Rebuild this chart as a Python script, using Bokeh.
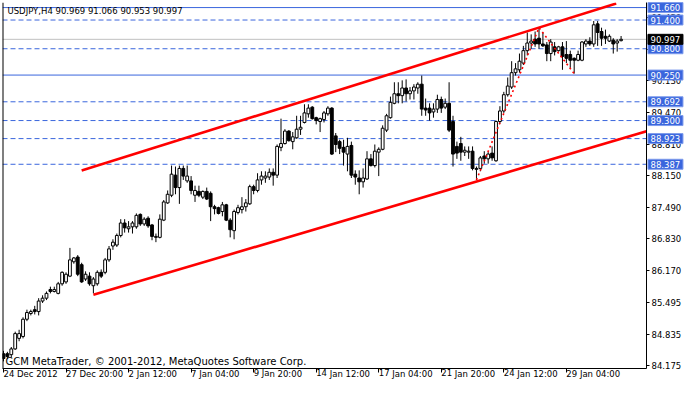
from bokeh.plotting import figure
from bokeh.models import Range1d, FixedTicker, Label, Span, ColumnDataSource, NumeralTickFormatter
from bokeh.core.properties import value
from bokeh.embed import file_html
from bokeh.resources import INLINE

symbol = "USDJPY,H4"

open_ = [
    84.43, 84.43, 84.41, 84.53, 84.75, 84.79, 85.15, 85.27, 85.35, 85.31,
    85.53, 85.59, 85.77, 85.73, 85.69, 85.89, 85.93, 86.05, 86.35, 86.45,
    86.29, 85.99, 86.05, 85.85, 85.89, 86.13, 86.13, 86.39, 86.68, 86.70,
    86.90, 87.16, 87.04, 87.08, 87.08, 87.34, 87.14, 87.26, 87.12, 86.86,
    86.86, 87.22, 87.58, 87.74, 88.16, 87.90, 88.30, 88.04, 88.04, 87.74,
    87.82, 87.70, 87.82, 87.78, 87.50, 87.48, 87.40, 87.54, 87.22, 87.00,
    87.38, 87.44, 87.50, 87.56, 87.92, 87.84, 88.06, 88.10, 88.12, 88.22,
    88.16, 88.74, 88.82, 89.08, 88.86, 88.94, 89.12, 89.26, 89.44, 89.58,
    89.36, 89.28, 89.32, 89.44, 89.56, 88.98, 88.86, 88.74, 88.60, 88.78,
    88.18, 88.10, 88.02, 88.08, 88.50, 88.36, 88.64, 88.70, 89.10, 89.36,
    89.66, 89.86, 89.82, 89.98, 89.86, 89.92, 89.98, 90.06, 89.56, 89.56,
    89.48, 89.54, 89.74, 89.58, 89.66, 89.28, 88.76, 88.82, 88.64, 88.64,
    88.66, 88.28, 88.30, 88.56, 88.50, 88.62, 88.46, 89.28, 89.50, 89.84,
    90.00, 90.30, 90.36, 90.50, 90.76, 90.92, 91.00, 91.02, 90.90, 90.88,
    90.70, 90.84, 90.76, 90.84, 90.68, 90.68, 90.60, 90.56, 90.56, 90.90,
    90.96, 90.90, 91.32, 91.16, 91.06, 90.96, 90.98, 90.92, 90.969]

high = [
    84.49, 84.47, 84.57, 84.89, 84.93, 85.19, 85.35, 85.35, 85.43, 85.59,
    85.65, 85.73, 85.83, 85.83, 85.93, 86.15, 86.13, 86.64, 86.45, 86.49,
    86.33, 86.15, 86.13, 86.03, 86.17, 86.19, 86.43, 86.68, 86.82, 86.94,
    87.24, 87.24, 87.20, 87.20, 87.36, 87.36, 87.28, 87.30, 87.14, 86.94,
    87.34, 87.64, 87.84, 88.36, 88.34, 88.36, 88.36, 88.36, 88.14, 87.94,
    87.94, 87.84, 87.90, 87.82, 87.54, 87.50, 87.60, 87.56, 87.26, 87.44,
    87.54, 87.70, 87.66, 87.96, 87.96, 88.20, 88.24, 88.24, 88.30, 88.30,
    88.80, 89.34, 89.12, 89.10, 89.06, 89.40, 89.40, 89.64, 89.64, 89.60,
    89.38, 89.36, 89.50, 89.60, 89.58, 89.04, 88.90, 88.90, 88.94, 88.86,
    88.26, 88.26, 88.30, 88.66, 88.60, 88.80, 88.74, 89.20, 89.44, 89.80,
    90.10, 90.10, 90.14, 90.16, 90.00, 90.06, 90.10, 90.24, 89.76, 89.66,
    89.66, 89.84, 89.80, 89.76, 90.10, 89.40, 88.86, 88.96, 88.76, 88.76,
    88.76, 88.34, 88.56, 88.66, 88.64, 88.76, 89.30, 89.60, 89.90, 90.20,
    90.54, 90.50, 90.70, 90.86, 91.14, 91.10, 91.16, 91.24, 91.14, 90.94,
    91.00, 90.94, 90.86, 90.94, 90.96, 90.76, 90.62, 90.76, 90.96, 91.00,
    91.04, 91.38, 91.38, 91.24, 91.20, 91.10, 91.02, 91.00, 91.066]

low = [
    84.27, 84.33, 84.35, 84.51, 84.69, 84.75, 85.11, 85.23, 85.25, 85.23,
    85.49, 85.55, 85.69, 85.71, 85.67, 85.85, 85.89, 86.03, 86.31, 86.05,
    85.91, 85.95, 85.85, 85.69, 85.85, 86.01, 86.09, 86.35, 86.60, 86.66,
    86.86, 86.96, 86.96, 86.94, 87.04, 87.10, 87.10, 87.06, 86.80, 86.76,
    86.84, 87.20, 87.56, 87.70, 87.76, 87.56, 88.06, 88.00, 87.76, 87.60,
    87.70, 87.66, 87.64, 87.20, 87.34, 87.34, 87.30, 87.20, 86.86, 86.82,
    87.34, 87.36, 87.40, 87.54, 87.76, 87.80, 87.96, 88.00, 88.06, 87.94,
    88.10, 88.66, 88.80, 88.86, 88.70, 88.92, 89.00, 89.24, 89.36, 89.32,
    89.22, 89.06, 89.26, 89.40, 88.58, 88.64, 88.60, 88.36, 88.24, 88.10,
    87.96, 87.76, 87.90, 88.06, 88.34, 88.32, 88.14, 88.68, 89.06, 89.34,
    89.64, 89.66, 89.66, 89.70, 89.74, 89.74, 89.86, 89.40, 89.40, 89.30,
    89.36, 89.46, 89.46, 89.54, 89.06, 88.34, 88.50, 88.46, 88.56, 88.50,
    88.26, 88.06, 88.24, 88.40, 88.40, 88.46, 88.44, 89.24, 89.46, 89.80,
    89.96, 90.24, 90.30, 90.46, 90.66, 90.80, 90.84, 90.80, 90.84, 90.54,
    90.54, 90.66, 90.74, 90.36, 90.50, 90.40, 90.28, 90.54, 90.54, 90.84,
    90.86, 90.84, 90.86, 90.86, 90.90, 90.94, 90.70, 90.74, 90.953]

close = [
    84.33, 84.37, 84.53, 84.85, 84.85, 85.15, 85.29, 85.31, 85.31, 85.53,
    85.59, 85.69, 85.73, 85.77, 85.89, 86.13, 86.09, 86.39, 86.43, 86.09,
    85.93, 86.09, 85.89, 85.99, 86.13, 86.05, 86.39, 86.62, 86.76, 86.90,
    87.16, 87.06, 87.08, 87.16, 87.32, 87.14, 87.24, 87.10, 86.88, 86.88,
    87.24, 87.60, 87.76, 88.18, 87.90, 88.30, 88.14, 88.14, 87.84, 87.84,
    87.74, 87.82, 87.66, 87.50, 87.46, 87.36, 87.54, 87.22, 87.02, 87.40,
    87.48, 87.50, 87.58, 87.92, 87.84, 88.06, 88.14, 88.14, 88.22, 88.16,
    88.76, 88.82, 89.08, 88.88, 88.96, 89.12, 89.16, 89.46, 89.56, 89.34,
    89.30, 89.34, 89.46, 89.56, 88.60, 88.80, 88.72, 88.64, 88.76, 88.16,
    88.12, 88.02, 88.10, 88.50, 88.36, 88.66, 88.70, 89.14, 89.40, 89.68,
    89.86, 89.82, 89.98, 89.86, 89.92, 90.00, 90.06, 89.54, 89.52, 89.46,
    89.54, 89.74, 89.56, 89.66, 89.10, 88.60, 88.62, 88.64, 88.68, 88.66,
    88.30, 88.30, 88.52, 88.50, 88.60, 88.52, 89.28, 89.50, 89.84, 90.02,
    90.30, 90.38, 90.54, 90.76, 90.92, 90.96, 90.90, 90.90, 90.86, 90.70,
    90.94, 90.74, 90.84, 90.64, 90.60, 90.56, 90.56, 90.68, 90.94, 90.96,
    90.90, 91.30, 91.14, 91.02, 91.02, 91.06, 90.90, 90.96, 90.997]

tick_bars = [0, 16, 32, 48, 64, 80, 96, 112, 128, 144]
tick_labels = ["24 Dec 2012", "27 Dec 20:00", "2 Jan 12:00", "7 Jan 04:00", "9 Jan 20:00",
               "14 Jan 12:00", "17 Jan 04:00", "21 Jan 20:00", "24 Jan 12:00", "29 Jan 04:00"]
price_ticks = [84.175, 84.835, 85.495, 86.170, 86.830, 87.490, 88.150, 88.810,
               89.470, 90.130, 90.790, 91.450]

solid_levels = [91.660, 90.250]
dashed_levels = [91.400, 90.800, 89.692, 89.300, 88.923, 88.387]
bid_price = 90.997

upper_channel_bar = [20, 156.75]
upper_channel_price = [88.259, 91.746]
lower_channel_bar = [23, 165]
lower_channel_price = [85.66, 89.09]
zigzag_bar = [121, 137, 146]
zigzag_price = [88.06, 91.24, 90.28]

footer = "GCM MetaTrader, \u00a9 2001-2012, MetaQuotes Software Corp."

# ---------------------------------------------------------------
X0, X1 = -0.25, 164.5
Y0, Y1 = 84.121, 91.766
FONT = "DejaVu Sans"
BLUE = "#3a66dd"

n = len(open_)
idx = list(range(n))
bull = [c >= o for o, c in zip(open_, close)]
src = ColumnDataSource(dict(
    x=idx,
    high=high,
    low=low,
    top=[max(o, c) for o, c in zip(open_, close)],
    bottom=[min(o, c) for o, c in zip(open_, close)],
    fill=["white" if b else "black" for b in bull],
))

p = figure(width=684, height=386, x_range=Range1d(X0, X1), y_range=Range1d(Y0, Y1),
           y_axis_location="right", toolbar_location=None, output_backend="svg",
           min_border_left=2, min_border_top=2, min_border_right=0, min_border_bottom=0)
p.background_fill_color = "white"
p.border_fill_color = "white"
p.outline_line_color = None
p.xgrid.visible = False
p.ygrid.visible = False

# left chart border
p.add_layout(Span(location=X0, dimension="height", line_color="black", line_width=2))

# horizontal levels (behind candles)
p.add_layout(Span(location=bid_price, dimension="width", line_color="#c0c0c0",
                  line_width=1, level="underlay"))
for lv in solid_levels:
    p.add_layout(Span(location=lv, dimension="width", line_color=BLUE, line_width=1,
                      level="underlay"))
for lv in dashed_levels:
    p.add_layout(Span(location=lv, dimension="width", line_color=BLUE, line_width=1,
                      line_dash="5 3", level="underlay"))

# candles
p.segment(x0="x", y0="low", x1="x", y1="high", source=src, line_color="black", line_width=1)
p.vbar(x="x", width=0.72, top="top", bottom="bottom", source=src,
       fill_color="fill", line_color="black", line_width=1)

# channel + zigzag
p.line(upper_channel_bar, upper_channel_price, line_color="red", line_width=2.6)
p.line(lower_channel_bar, lower_channel_price, line_color="red", line_width=2.6)
p.line(zigzag_bar, zigzag_price, line_color="red", line_width=1.6, line_dash="2 3")

# axes
xa = p.xaxis[0]
xa.ticker = FixedTicker(ticks=tick_bars)
xa.major_label_overrides = {b: t for b, t in zip(tick_bars, tick_labels)}
xa.major_label_orientation = -1e-6
xa.major_tick_out = 4
xa.major_tick_in = 0
xa.minor_tick_line_color = None
xa.major_label_standoff = 1
ya = p.yaxis[0]
ya.ticker = FixedTicker(ticks=price_ticks)
ya.formatter = NumeralTickFormatter(format="0.000")
ya.major_tick_out = 3
ya.major_tick_in = 0
ya.minor_tick_line_color = None
ya.major_label_standoff = 2
for ax in (xa, ya):
    ax.axis_line_color = "black"
    ax.major_tick_line_color = "black"
    ax.major_label_text_font = FONT
    ax.major_label_text_font_size = "8.5px"
    ax.major_label_text_color = "black"

# boxed price labels on the price scale (overlay level: drawn over the scale)
box_levels = solid_levels + dashed_levels + [bid_price]
box_src = ColumnDataSource(dict(
    y=box_levels,
    text=[f"{v:.3f}" for v in box_levels],
    color=[BLUE] * (len(box_levels) - 1) + ["black"],
    edge=["#7d9bec"] * (len(box_levels) - 1) + ["black"],
))
p.rect(x=X1 + 4.85, y="y", width=35, height=10, width_units="screen", height_units="screen",
       fill_color="color", line_color="edge", line_width=1, source=box_src, level="overlay")
p.text(x=X1, y="y", text="text", x_offset=4, text_color="white", text_font=value(FONT),
       text_font_size=value("8.5px"), text_align="left", text_baseline="middle",
       source=box_src, level="overlay")

title = f"{symbol}  {open_[-1]:.3f} {high[-1]:.3f} {low[-1]:.3f} {close[-1]:.3f}"
p.add_layout(Label(x=X0, y=Y1, x_offset=5, y_offset=-3, text=title, text_color="black",
                   text_font=FONT, text_font_size="8.5px", text_baseline="top"))
p.add_layout(Label(x=X0, y=Y0, x_offset=3, y_offset=2, text=footer, text_color="black",
                   text_font=FONT, text_font_size="10px", text_baseline="bottom"))

open("out.html", "w").write(file_html(p, INLINE))
